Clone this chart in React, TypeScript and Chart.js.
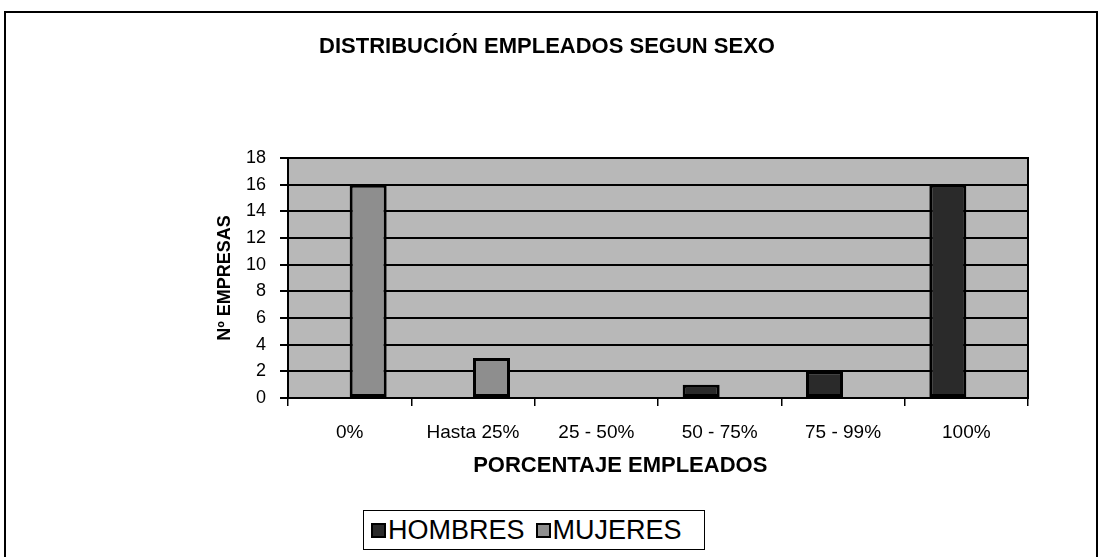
import React, { useEffect, useRef } from 'react';
import { Chart, registerables } from 'chart.js';

Chart.register(...registerables);

const categories = ['0%', 'Hasta 25%', '25 - 50%', '50 - 75%', '75 - 99%', '100%'];
const hombres = [0, 0, 0, 1, 2, 16];
const mujeres = [16, 3, 0, 0, 0, 0];
const seriesNames = ['HOMBRES', 'MUJERES'];
const yMin = 0;
const yMax = 18;
const yStep = 2;
const xAxisTitle = 'PORCENTAJE EMPLEADOS';

const FONT = "'Liberation Sans', Arial, Helvetica, sans-serif";
const COLOR_H = '#2a2a2a';
const COLOR_M = '#8e8e8e';
const PLOT_BG = '#b8b8b8';

const plotStyle = {
  id: 'plotStyle',
  beforeDraw(chart: any) {
    const { ctx, chartArea } = chart;
    if (!chartArea) return;
    ctx.save();
    ctx.fillStyle = PLOT_BG;
    ctx.fillRect(chartArea.left, chartArea.top, chartArea.right - chartArea.left, chartArea.bottom - chartArea.top);
    ctx.restore();
  },
  afterDraw(chart: any) {
    const { ctx, chartArea } = chart;
    if (!chartArea) return;
    ctx.save();
    ctx.strokeStyle = '#000';
    ctx.lineWidth = 2;
    ctx.strokeRect(chartArea.left, chartArea.top, chartArea.right - chartArea.left, chartArea.bottom - chartArea.top);
    // x axis title (slightly left of plot centre, as in the original)
    ctx.fillStyle = '#000';
    ctx.font = `bold 22px ${FONT}`;
    ctx.textAlign = 'center';
    ctx.textBaseline = 'middle';
    const cx = chartArea.left + (chartArea.right - chartArea.left) * 0.449;
    ctx.fillText(xAxisTitle, cx, chartArea.bottom + 68);
    ctx.restore();
  },
};

export default function App() {
  const canvasRef = useRef<HTMLCanvasElement | null>(null);

  useEffect(() => {
    const canvas = canvasRef.current;
    if (!canvas) return;
    const chart = new Chart(canvas, {
      type: 'bar',
      data: {
        labels: categories,
        datasets: [
          {
            label: seriesNames[0],
            data: hombres,
            backgroundColor: COLOR_H,
            borderColor: '#000',
            borderWidth: 3,
            borderSkipped: false,
            categoryPercentage: 0.6,
            barPercentage: 1.0,
          },
          {
            label: seriesNames[1],
            data: mujeres,
            backgroundColor: COLOR_M,
            borderColor: '#000',
            borderWidth: 3,
            borderSkipped: false,
            categoryPercentage: 0.6,
            barPercentage: 1.0,
          },
        ],
      },
      options: {
        responsive: false,
        animation: false,
        devicePixelRatio: 1,
        layout: { padding: { left: 66, right: 71, top: 0, bottom: 80 } },
        plugins: {
          legend: { display: false },
          tooltip: { enabled: false },
          title: {
            display: true,
            text: 'DISTRIBUCIÓN EMPLEADOS SEGUN SEXO',
            color: '#000',
            font: { family: FONT, size: 22, weight: 'bold' },
            padding: { top: 34, bottom: 97.6 },
          },
        },
        scales: {
          x: {
            afterFit: (s: any) => { s.height = 79; },
            grid: {
              display: true,
              drawOnChartArea: false,
              drawTicks: true,
              tickLength: 8,
              color: '#000',
              lineWidth: 1.5,
              offset: true,
            },
            border: { display: true, color: '#000', width: 2 },
            ticks: {
              color: '#000',
              font: { family: FONT, size: 19 },
              padding: 15,
              maxRotation: 0,
              autoSkip: false,
            },
            title: { display: false },
          },
          y: {
            min: yMin,
            max: yMax,
            afterFit: (s: any) => { s.width = 222; },
            grid: {
              color: '#000',
              lineWidth: 2,
              tickLength: 8,
              drawTicks: true,
            },
            border: { display: true, color: '#000', width: 2 },
            ticks: {
              stepSize: yStep,
              color: '#000',
              font: { family: FONT, size: 18 },
              padding: 14,
            },
            title: {
              display: true,
              text: 'Nº EMPRESAS',
              color: '#000',
              font: { family: FONT, size: 18, weight: 'bold' },
              padding: { top: 148, bottom: 0 },
            },
          },
        },
      },
      plugins: [plotStyle],
    } as any);
    return () => chart.destroy();
  }, []);

  const legendItems = [
    { name: seriesNames[0], color: COLOR_H },
    { name: seriesNames[1], color: COLOR_M },
  ];

  return (
    <div style={{ position: 'fixed', left: 0, top: 0, width: 1099, height: 557, overflow: 'hidden', background: '#fff' }}>
      <div
        style={{
          position: 'absolute',
          left: 4,
          top: 11,
          width: 1094,
          height: 700,
          border: '2px solid #000',
          boxSizing: 'border-box',
        }}
      />
      <canvas ref={canvasRef} width={1099} height={557} style={{ position: 'absolute', left: 0, top: 0, width: 1099, height: 557 }} />
      <div
        style={{
          position: 'absolute',
          left: 363,
          top: 510,
          height: 40,
          width: 342,
          border: '1.5px solid #000',
          boxSizing: 'border-box',
          display: 'flex',
          alignItems: 'center',
          paddingLeft: 7,
          fontFamily: FONT,
          fontSize: 27,
          color: '#000',
          background: '#fff',
        }}
      >
        {legendItems.map((it, i) => (
          <div key={it.name} style={{ display: 'flex', alignItems: 'center', marginLeft: i === 0 ? 0 : 11 }}>
            <span
              style={{
                display: 'inline-block',
                width: 15,
                height: 15,
                background: it.color,
                border: '2px solid #000',
                boxSizing: 'border-box',
                marginRight: 2,
              }}
            />
            <span style={{ lineHeight: 1 }}>{it.name}</span>
          </div>
        ))}
      </div>
    </div>
  );
}
